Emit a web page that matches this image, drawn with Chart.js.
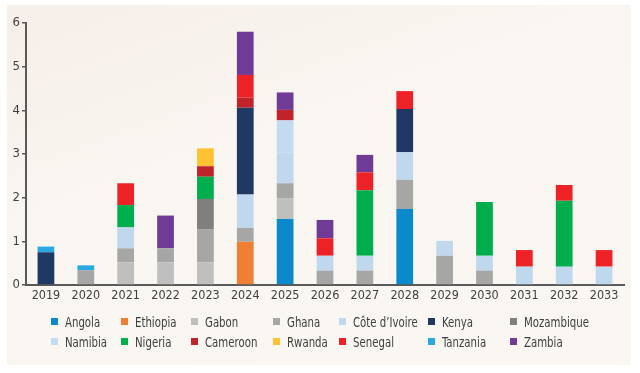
<!DOCTYPE html>
<html>
<head>
<meta charset="utf-8">
<script src="https://cdn.jsdelivr.net/npm/chart.js@4/dist/chart.umd.min.js"></script>
<style>
  html, body { margin: 0; padding: 0; background: #ffffff; }
  #wrap { position: relative; width: 640px; height: 373px; overflow: hidden; }
  #panel { position: absolute; left: 7px; top: 5px; width: 624px; height: 360px;
    background: linear-gradient(160deg, #f6eee8 0%, #f9f5f0 35%, #faf7f2 100%); }
  #c { position: absolute; left: 0; top: 0; }
  #legend { position: absolute; left: 0; top: 0; width: 640px; height: 373px; pointer-events: none;
    font-family: 'DejaVu Sans Condensed', 'Liberation Sans Narrow', sans-serif; font-size: 14.5px; color: #404040; }
  .li { position: absolute; white-space: nowrap; line-height: 16px; height: 16px; }
  .li .bx { position: absolute; left: 0; top: 4px; width: 7px; height: 7px; }
  .li .tx { position: absolute; left: 14px; top: 0; transform: scaleX(0.78); transform-origin: 0 50%; }
</style>
</head>
<body>
<div id="wrap">
  <div id="panel"></div>
  <canvas id="c" width="640" height="373"></canvas>
  <div id="legend"></div>
</div>
<script>
const years = ['2019','2020','2021','2022','2023','2024','2025','2026','2027','2028','2029','2030','2031','2032','2033'];
const yTicks = [0,1,2,3,4,5,6];

const angola     = [null,null,null,null,null,null,1.51,null,null,1.74,null,null,null,null,null];
const ethiopia   = [null,null,null,null,null,0.99,null,null,null,null,null,null,null,null,null];
const gabon      = [null,null,0.52,0.52,0.52,null,0.48,null,null,null,null,null,null,null,null];
const ghana      = [null,0.34,0.32,0.32,0.76,0.32,0.34,0.33,0.33,0.67,0.67,0.33,null,null,null];
const coteIvoire = [null,null,0.48,null,null,0.76,0.71,0.34,0.34,0.63,0.34,0.34,0.42,0.42,0.42];
const kenya      = [0.75,null,null,null,null,1.99,null,null,null,0.99,null,null,null,null,null];
const mozambique = [null,null,null,null,0.69,null,null,null,null,null,null,null,null,null,null];
const namibia    = [null,null,null,null,null,null,0.73,null,null,null,null,null,null,null,null];
const nigeria    = [null,null,0.51,null,0.51,null,null,null,1.50,null,null,1.23,null,1.51,null];
const cameroon   = [null,null,null,null,0.24,0.23,0.24,null,null,null,null,null,null,null,null];
const rwanda     = [null,null,null,null,0.41,null,null,null,null,null,null,null,null,null,null];
const senegal    = [null,null,0.50,null,null,0.52,null,0.40,0.41,0.41,null,null,0.38,0.36,0.38];
const tanzania   = [0.13,0.11,null,null,null,null,null,null,null,null,null,null,null,null,null];
const zambia     = [null,null,null,0.75,null,0.99,0.40,0.42,0.40,null,null,null,null,null,null];

const seriesNames = ['Angola','Ethiopia','Gabon','Ghana','Côte d’Ivoire','Kenya','Mozambique',
                     'Namibia','Nigeria','Cameroon','Rwanda','Senegal','Tanzania','Zambia'];
const seriesData = [angola,ethiopia,gabon,ghana,coteIvoire,kenya,mozambique,
                    namibia,nigeria,cameroon,rwanda,senegal,tanzania,zambia];
const seriesColors = ['#0a8acb','#ee7f33','#bfbfbf','#a6a6a6','#bfd8ee','#1f3864','#7f7f7f',
                      '#c3dbf0','#00ae4d','#c1232b','#fdc231','#ec2227','#2aa9e0','#6f3b97'];

const datasets = seriesNames.map((n,i)=>({
  label: n, data: seriesData[i], backgroundColor: seriesColors[i],
  borderWidth: 0, barPercentage: 0.42, categoryPercentage: 1.0
}));

const FONT = "'DejaVu Sans Condensed', 'Liberation Sans Narrow', sans-serif";

new Chart(document.getElementById('c'), {
  type: 'bar',
  data: { labels: years, datasets },
  options: {
    responsive: false, animation: false,
    layout: { padding: { left: 0, right: 16, top: 23, bottom: 68 } },
    plugins: { legend: { display: false }, tooltip: { enabled: false } },
    scales: {
      x: {
        stacked: true, offset: true,
        grid: { display: false, drawTicks: false },
        border: { display: true, color: '#595959', width: 2 },
        ticks: { color: '#404040', font: { family: FONT, size: 12.5 }, padding: 3, maxRotation: 0, autoSkip: false },
        afterFit: s => { s.height = 20; }
      },
      y: {
        stacked: true, min: 0, max: 6,
        afterBuildTicks: s => { s.ticks = yTicks.map(v => ({ value: v })); },
        grid: { drawOnChartArea: false, drawTicks: true, tickLength: 4, color: '#595959', lineWidth: 1.5 },
        border: { display: true, color: '#595959', width: 2 },
        ticks: { color: '#404040', font: { family: FONT, size: 13 }, padding: 2 },
        afterFit: s => { s.width = 26; }
      }
    }
  }
});

// grid legend (2 rows x 7 columns)
const colX = [51,121,191,273,339,428,510];
const rowY = [314,334];
const lg = document.getElementById('legend');
seriesNames.forEach((n,i)=>{
  const r = Math.floor(i/7), c = i%7;
  const d = document.createElement('div');
  d.className = 'li';
  d.style.left = colX[c] + 'px';
  d.style.top = rowY[r] + 'px';
  d.innerHTML = '<span class="bx" style="background:' + seriesColors[i] + '"></span><span class="tx"></span>';
  d.querySelector('.tx').textContent = n;
  lg.appendChild(d);
});
</script>
</body>
</html>
